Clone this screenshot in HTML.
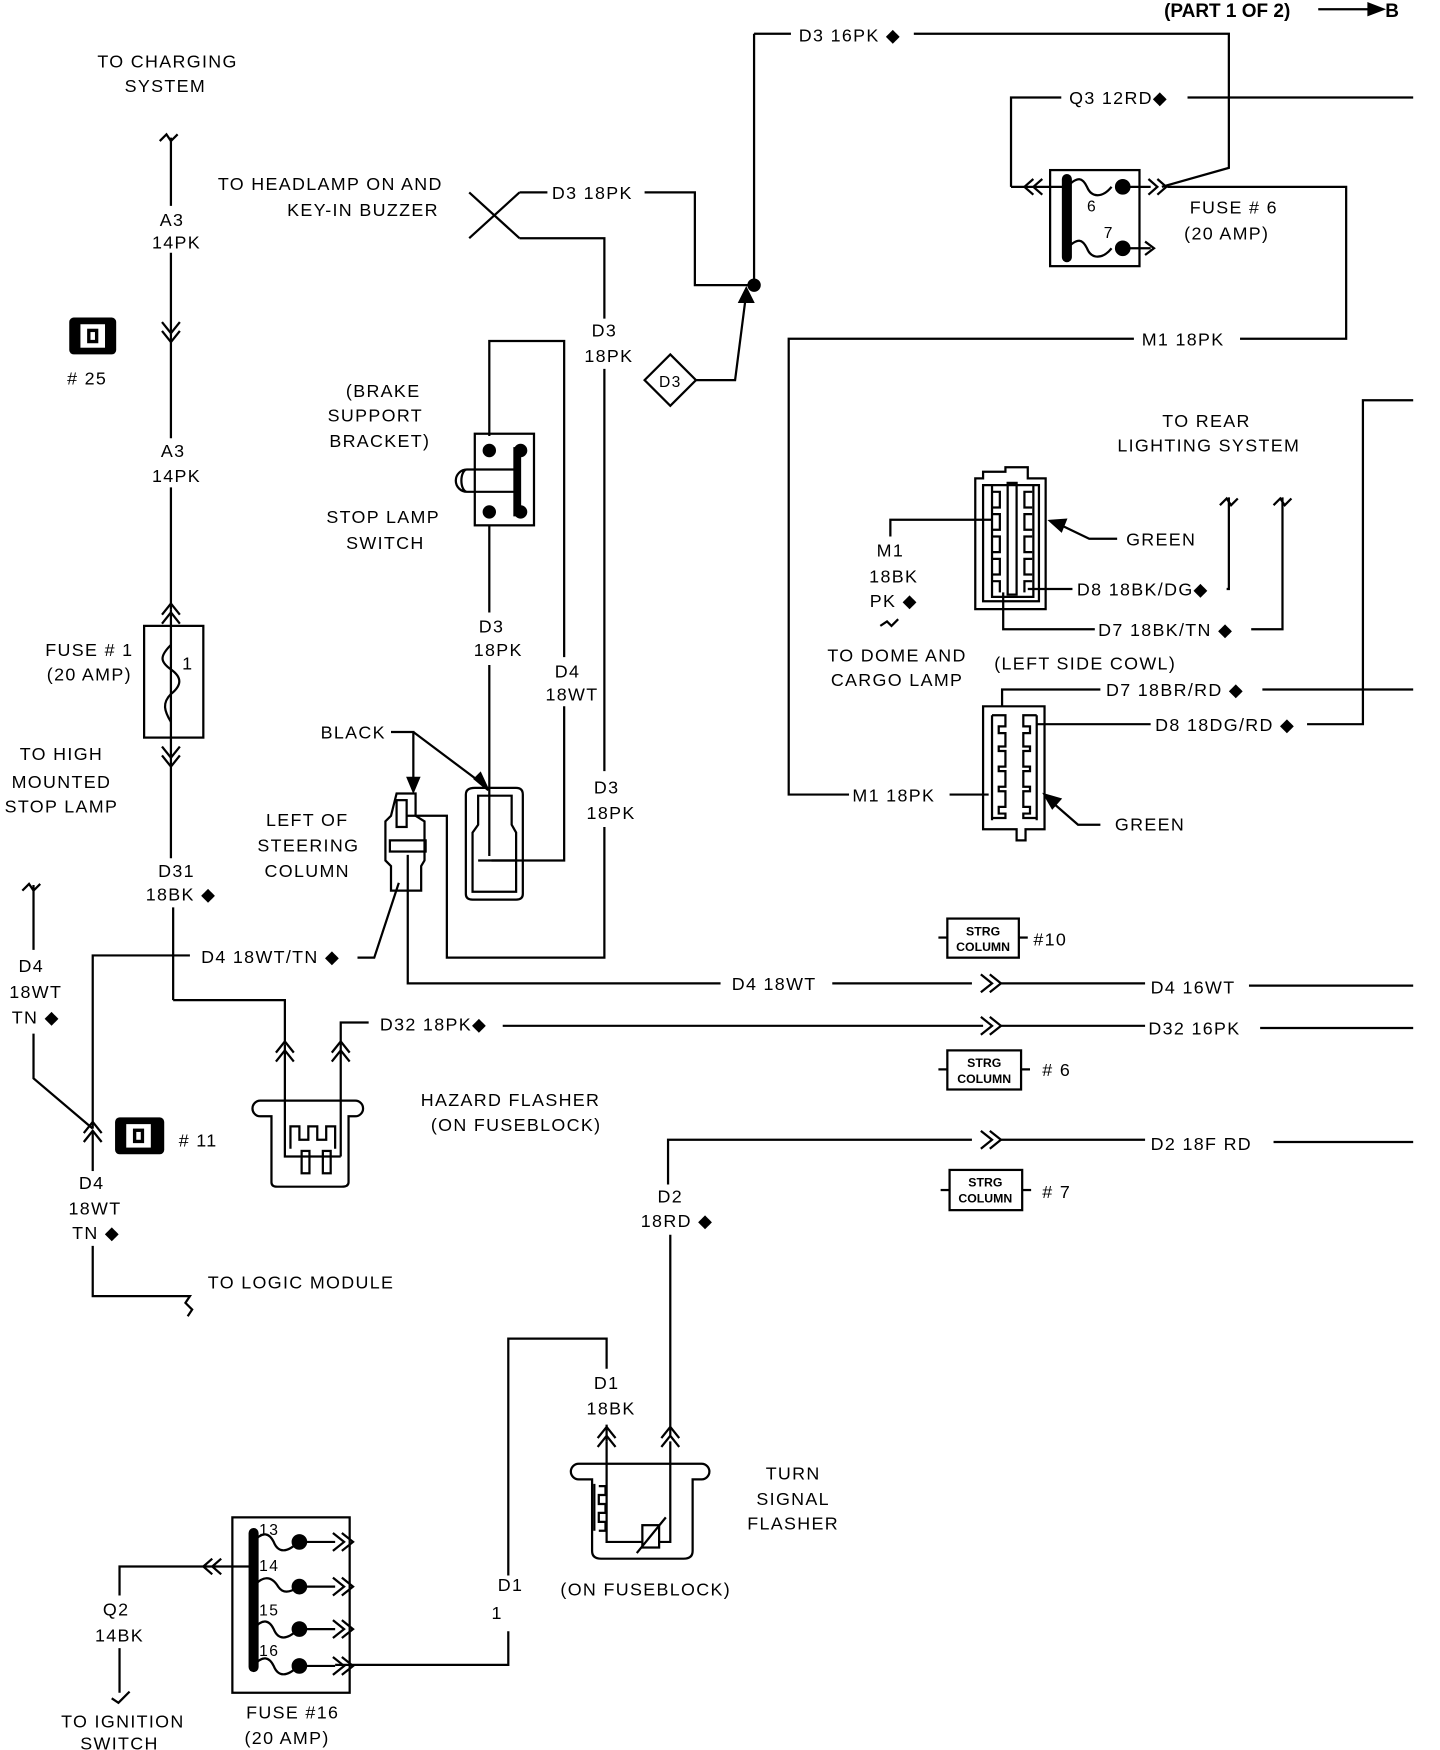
<!DOCTYPE html>
<html><head><meta charset="utf-8"><style>
html,body{margin:0;padding:0;background:#fff;}
svg{display:block;}
text{font-family:"Liberation Sans",sans-serif;font-size:16px;fill:#000;letter-spacing:1.2px;}
.m{text-anchor:middle;}
.s{font-size:11px;font-weight:bold;letter-spacing:0;}
</style></head><body>
<svg width="1440" height="1750" viewBox="0 0 1289 1566" xmlns="http://www.w3.org/2000/svg">
<defs>
<path id="dr" d="M-10,-8 L0,0 L-10,8 M-2,-8 L8,0 L-2,8" fill="none" stroke="#000" stroke-width="2"/>
</defs>
<g fill="none" stroke="#000" stroke-width="2">
<line x1="1180" y1="8" x2="1228" y2="8"/><path d="M1225,3 L1238,8 L1225,13 Z" fill="#000"/>
<path d="M143,126 l6,-6 l4,6 l6,-6"/>
<line x1="153" y1="123" x2="153" y2="184"/>
<line x1="153" y1="226" x2="153" y2="392"/>
<line x1="153" y1="436" x2="153" y2="545"/>
<line x1="153" y1="545" x2="153" y2="660"/>
<line x1="153" y1="660" x2="153" y2="768"/>
<line x1="155" y1="812" x2="155" y2="895"/>
<path d="M155,895 H255 V935"/>
<rect x="129" y="560" width="53" height="100"/>
<path d="M153,577 c-10,10 -10,15 0,22 c10,7 10,14 0,22 c-8,8 -6,15 0,25"/>
<path d="M20,797 l6,-6 l4,6 l6,-6"/>
<line x1="30" y1="792" x2="30" y2="850"/>
<path d="M30,925 V965 L83,1010"/>
<path d="M83,1010 V855 H170"/>
<path d="M320,857 H335 L357,790"/>
<path d="M83,1012 V1048"/>
<path d="M83,1115 V1160 H170 l-4,6 l6,6 l-4,6"/>
<path d="M233,985 H318 a7,7 0 0 1 0,14 H312 L312,1058 Q312,1062 306,1062 H248 Q243,1062 243,1058 V999 H233 a7,7 0 0 1 0,-14 Z"/>
<path d="M255,935 V1035 H305"/>
<path d="M305,945 V1035"/>
<path d="M260,1028 V1008 h8 v12 h8 v-12 h8 v12 h8 v-12 h8 v20"/>
<rect x="270" y="1030" width="7" height="20"/><rect x="289" y="1030" width="7" height="20"/>
<path d="M305,945 V915 H330"/>
<line x1="450" y1="918" x2="880" y2="918"/><line x1="895" y1="918" x2="1025" y2="918"/><line x1="1128" y1="920" x2="1265" y2="920"/>
<path d="M420,172 L465,213 M420,213 L465,172"/>
<path d="M465,172 H490 M577,172 H622 V255 H675"/>
<path d="M465,213 H541 V285"/>
<line x1="541" y1="330" x2="541" y2="690"/>
<path d="M541,740 V857 H400 V730 H380"/>
<path d="M675,30 V255"/>
<circle cx="675" cy="255" r="5" fill="#000"/>
<path d="M675,30 H708 M818,30 H1100 V150 L1040,167"/>
<path d="M600,317 L623,340 L600,363 L577,340 Z"/>
<path d="M623,340 H658 L668,262"/><path d="M662,270 L668,258 L674,270 Z" fill="#000"/>
<rect x="940" y="152" width="80" height="86"/>
<line x1="955" y1="160" x2="955" y2="230" stroke-width="9" stroke-linecap="round"/>
<path d="M955,167 c10,-10 14,-8 18,0 c4,10 14,10 22,0"/><circle cx="1005" cy="167" r="6" fill="#000"/>
<path d="M955,222 c10,-10 14,-8 18,0 c4,10 14,10 22,0"/><circle cx="1005" cy="222" r="6" fill="#000"/>
<path d="M1010,222 H1030 M1025,216 L1033,222 L1025,228"/>
<path d="M925,160 l-8,7 l8,7 M933,160 l-8,7 l8,7 M917,167 H955"/>
<path d="M905,167 H917 M905,167 V87 H950 M1063,87 H1265"/>
<path d="M1010,167 H1030"/>
<path d="M1028,160 l8,7 l-8,7 M1036,160 l8,7 l-8,7"/>
<path d="M1045,167 H1205 V303 H1110 M1015,303 H706 V711 H760 M850,711 H885"/>
<path d="M873,428 H880 V422 H900 V418 H920 V428 H936 V545 H873 Z"/>
<path d="M880,434 H930 V538 H880 Z"/>
<path d="M888,434 V534 H925 V434"/>
<rect x="902" y="432" width="8" height="100"/>
<path d="M888,440 h7 v14 h-7 M888,460 h7 v14 h-7 M888,480 h7 v14 h-7 M888,500 h7 v14 h-7 M888,520 h7 v10"/>
<path d="M924,440 h-7 v14 h7 M924,460 h-7 v14 h7 M924,480 h-7 v14 h7 M924,500 h-7 v14 h7 M924,520 h-7 v10"/>
<path d="M888,465 H797 V480 M788,560 l6,-4 l4,4 l6,-6"/>
<path d="M1000,482 H975 L948,469"/><path d="M940,466 L954,465 L950,475 Z" fill="#000"/>
<path d="M920,527 H960 M1098,527 H1100 V445 M1092,452 l6,-6 l4,6 l6,-6"/>
<path d="M898,530 V563 H980 M1120,563 H1148 V445 M1140,452 l6,-6 l4,6 l6,-6"/>
<path d="M880,632 H935 V742 H918 V752 H910 V742 H880 Z"/>
<path d="M888,640 V734 M928,640 V734"/>
<path d="M888,640 h12 v10 h-6 v6 h6 v12 h-6 v4 h6 v14 h-6 v4 h6 v14 h-6 v4 h6 v14 h-6 v6 h6 v4 h-12"/>
<path d="M928,640 h-12 v10 h6 v6 h-6 v12 h6 v4 h-6 v14 h6 v4 h-6 v14 h6 v4 h-6 v14 h6 v6 h-6 v4 h12"/>
<path d="M897,632 V617 H985 M1130,617 H1265"/>
<path d="M928,648 H1030 M1170,648 H1220 V358 H1265"/>
<path d="M985,738 H965 L942,718"/><path d="M935,711 L949,715 L942,723 Z" fill="#000"/>
<rect x="425" y="388" width="53" height="82"/>
<circle cx="438" cy="403" r="5" fill="#000"/><circle cx="438" cy="458" r="5" fill="#000"/>
<path d="M463,400 V462" stroke-width="7"/><circle cx="466" cy="403" r="5" fill="#000"/><circle cx="466" cy="458" r="5" fill="#000"/>
<path d="M463,420 H418 a10,10 0 0 0 0,20 H463 M418,420 a5,10 0 0 0 0,20"/>
<path d="M438,390 V305 H505 V588 M505,632 V770 H440"/>
<path d="M438,470 V548 M438,595 V766"/>
<path d="M425,705 H462 Q468,705 468,711 V800 Q468,805 462,805 H423 Q417,805 417,800 V711 Q417,705 425,705 Z"/>
<path d="M428,712 H458 V738 L462,745 V798 H423 V745 L428,738 Z"/>
<line x1="428" y1="770" x2="462" y2="770"/>
<path d="M355,710 H372 V730 L380,735 V770 L377,775 V797 H350 V775 L345,770 V735 L350,730 Z"/>
<rect x="355" y="716" width="9" height="24"/>
<rect x="349" y="752" width="32" height="10"/>
<path d="M364,730 H380"/>
<path d="M350,655 H370 V700 M370,655 L430,700"/>
<path d="M365,696 L370,708 L375,696 Z M425,697 L437,707 L430,692 Z" fill="#000"/>
<path d="M365,765 V880 H645 M745,880 H870 M895,880 H1025 M1118,882 H1265"/>
<rect x="848" y="822" width="64" height="35"/><line x1="840" y1="839" x2="848" y2="839"/><line x1="912" y1="839" x2="920" y2="839"/>
<rect x="848" y="940" width="66" height="35"/><line x1="840" y1="957" x2="848" y2="957"/><line x1="914" y1="957" x2="922" y2="957"/>
<rect x="850" y="1047" width="65" height="36"/><line x1="842" y1="1065" x2="850" y2="1065"/><line x1="915" y1="1065" x2="923" y2="1065"/>
<path d="M598,1060 V1020 H870 M895,1020 H1025 M1140,1022 H1265"/>
<path d="M600,1105 V1285"/>
<path d="M455,1410 V1198 H543 V1225 M543,1275 V1290"/>
<path d="M455,1460 V1490 H300"/>
<path d="M518,1310 H628 a7,7 0 0 1 0,14 H620 V1388 Q620,1395 612,1395 H538 Q530,1395 530,1388 V1324 H518 a7,7 0 0 1 0,-14 Z"/>
<path d="M543,1290 V1380 H575 M600,1290 V1380 H590"/>
<path d="M536,1330 h6 v8 h-6 v8 h6 v8 h-6 v8 h6 v8 h-6 M532,1328 V1370"/>
<rect x="575" y="1365" width="15" height="20"/><line x1="570" y1="1390" x2="596" y2="1358"/>
<rect x="208" y="1358" width="105" height="157"/>
<line x1="227" y1="1372" x2="227" y2="1492" stroke-width="9" stroke-linecap="round"/>
<path d="M227,1380 c8,-10 14,-8 18,0 c4,10 12,10 22,0"/><circle cx="268" cy="1380" r="6" fill="#000"/>
<path d="M227,1420 c8,-10 16,-10 22,0 c4,6 10,6 18,0"/><circle cx="268" cy="1420" r="6" fill="#000"/>
<path d="M227,1458 c8,-10 14,-8 18,0 c4,10 12,10 22,0"/><circle cx="268" cy="1458" r="6" fill="#000"/>
<path d="M227,1491 c8,-10 14,-8 18,0 c4,10 12,10 22,0"/><circle cx="268" cy="1491" r="6" fill="#000"/>
<path d="M268,1380 H300 M268,1420 H300 M268,1458 H300 M268,1491 H300"/>
<path d="M190,1395 l-8,7 l8,7 M198,1395 l-8,7 l8,7 M182,1402 H227"/>
<path d="M182,1402 H107 V1428 M107,1475 V1515 M100,1520 l6,4 l4,-4 l6,-6"/>
</g>
<use href="#dr" transform="translate(153,298) rotate(90)"/>
<use href="#dr" transform="translate(153,548) rotate(-90)"/>
<use href="#dr" transform="translate(153,678) rotate(90)"/>
<use href="#dr" transform="translate(83,1012) rotate(-90)"/>
<use href="#dr" transform="translate(255,940) rotate(-90)"/>
<use href="#dr" transform="translate(305,940) rotate(-90)"/>
<use href="#dr" transform="translate(888,880)"/>
<use href="#dr" transform="translate(888,918)"/>
<use href="#dr" transform="translate(888,1020)"/>
<use href="#dr" transform="translate(543,1285) rotate(-90)"/>
<use href="#dr" transform="translate(600,1285) rotate(-90)"/>
<use href="#dr" transform="translate(308,1380)"/>
<use href="#dr" transform="translate(308,1420)"/>
<use href="#dr" transform="translate(308,1458)"/>
<use href="#dr" transform="translate(308,1491)"/>
<rect x="62" y="284" width="42" height="33" rx="4" fill="#000"/><rect x="72" y="290" width="22" height="21" fill="#fff"/><rect x="78" y="294" width="10" height="13" fill="#000"/><rect x="81" y="297" width="4" height="7" fill="#fff"/>
<rect x="103" y="1000" width="44" height="33" rx="4" fill="#000"/><rect x="113" y="1006" width="22" height="21" fill="#fff"/><rect x="119" y="1010" width="10" height="13" fill="#000"/><rect x="122" y="1013" width="4" height="7" fill="#fff"/>
<g font-weight="bold"><text x="1042" y="15" style="font-size:17px;letter-spacing:0">(PART 1 OF 2)</text><text x="1240" y="15" style="font-size:17px">B</text></g>
<text class="m" x="150" y="60">TO CHARGING</text>
<text class="m" x="148" y="82">SYSTEM</text>
<text class="m" x="154" y="202">A3</text><text class="m" x="158" y="222">14PK</text>
<text class="m" x="78" y="344"># 25</text>
<text class="m" x="155" y="409">A3</text><text class="m" x="158" y="431">14PK</text>
<text class="m" x="80" y="587">FUSE # 1</text><text class="m" x="80" y="609">(20 AMP)</text>
<text x="163" y="599">1</text>
<text class="m" x="55" y="680">TO HIGH</text><text class="m" x="55" y="705">MOUNTED</text><text class="m" x="55" y="727">STOP LAMP</text>
<text class="m" x="158" y="785">D31</text><text class="m" x="162" y="806">18BK ◆</text>
<text class="m" x="28" y="870">D4</text><text class="m" x="32" y="893">18WT</text><text class="m" x="32" y="916">TN ◆</text>
<text x="180" y="862">D4 18WT/TN ◆</text>
<text x="160" y="1026"># 11</text>
<text class="m" x="82" y="1064">D4</text><text class="m" x="85" y="1087">18WT</text><text class="m" x="86" y="1109">TN ◆</text>
<text x="186" y="1153">TO LOGIC MODULE</text>
<text x="340" y="922">D32 18PK◆</text>
<text class="m" x="457" y="990">HAZARD FLASHER</text><text class="m" x="462" y="1012">(ON FUSEBLOCK)</text>
<text x="195" y="170">TO HEADLAMP ON AND</text><text x="257" y="193">KEY-IN BUZZER</text>
<text x="494" y="178">D3 18PK</text>
<text class="m" x="541" y="301">D3</text><text class="m" x="545" y="324">18PK</text>
<text class="m" x="600" y="346" style="font-size:14px">D3</text>
<text x="715" y="37">D3 16PK ◆</text>
<text x="957" y="93">Q3 12RD◆</text>
<text x="973" y="189" style="font-size:14px">6</text><text x="988" y="213" style="font-size:14px">7</text>
<text x="1065" y="191">FUSE # 6</text><text x="1060" y="214">(20 AMP)</text>
<text x="1022" y="309">M1 18PK</text>
<text class="m" x="1080" y="382">TO REAR</text><text class="m" x="1082" y="404">LIGHTING SYSTEM</text>
<text class="m" x="343" y="355">(BRAKE</text><text class="m" x="336" y="377">SUPPORT</text><text class="m" x="340" y="400">BRACKET)</text>
<text class="m" x="343" y="468">STOP LAMP</text><text class="m" x="345" y="491">SWITCH</text>
<text class="m" x="440" y="566">D3</text><text class="m" x="446" y="587">18PK</text>
<text class="m" x="508" y="606">D4</text><text class="m" x="512" y="627">18WT</text>
<text class="m" x="543" y="710">D3</text><text class="m" x="547" y="733">18PK</text>
<text x="287" y="661">BLACK</text>
<text class="m" x="275" y="739">LEFT OF</text><text class="m" x="276" y="762">STEERING</text><text class="m" x="275" y="785">COLUMN</text>
<text class="m" x="797" y="498">M1</text><text class="m" x="800" y="521">18BK</text><text class="m" x="800" y="543">PK ◆</text>
<text class="m" x="803" y="592">TO DOME AND</text><text class="m" x="803" y="614">CARGO LAMP</text>
<text x="1008" y="488">GREEN</text>
<text x="964" y="533">D8 18BK/DG◆</text>
<text x="983" y="569">D7 18BK/TN ◆</text>
<text x="890" y="599">(LEFT SIDE COWL)</text>
<text x="990" y="623">D7 18BR/RD ◆</text>
<text x="1034" y="654">D8 18DG/RD ◆</text>
<text x="763" y="717">M1 18PK</text>
<text x="998" y="743">GREEN</text>
<text class="m s" x="880" y="837">STRG</text><text class="m s" x="880" y="851">COLUMN</text><text x="925" y="846">#10</text>
<text class="m s" x="881" y="955">STRG</text><text class="m s" x="881" y="969">COLUMN</text><text x="933" y="963"># 6</text>
<text class="m s" x="882" y="1062">STRG</text><text class="m s" x="882" y="1076">COLUMN</text><text x="933" y="1072"># 7</text>
<text x="655" y="886">D4 18WT</text>
<text x="1030" y="889">D4 16WT</text>
<text x="1028" y="926">D32 16PK</text>
<text x="1030" y="1029">D2 18F RD</text>
<text class="m" x="600" y="1076">D2</text><text class="m" x="606" y="1098">18RD ◆</text>
<text class="m" x="543" y="1243">D1</text><text class="m" x="547" y="1266">18BK</text>
<text class="m" x="710" y="1324">TURN</text><text class="m" x="710" y="1347">SIGNAL</text><text class="m" x="710" y="1369">FLASHER</text>
<text class="m" x="578" y="1428">(ON FUSEBLOCK)</text>
<text class="m" x="457" y="1424">D1</text><text x="440" y="1449">1</text>
<text x="232" y="1374" style="font-size:14px">13</text><text x="232" y="1406" style="font-size:14px">14</text>
<text x="232" y="1446" style="font-size:14px">15</text><text x="232" y="1482" style="font-size:14px">16</text>
<text class="m" x="104" y="1446">Q2</text><text class="m" x="107" y="1469">14BK</text>
<text class="m" x="110" y="1546">TO IGNITION</text><text class="m" x="107" y="1566">SWITCH</text>
<text class="m" x="262" y="1538">FUSE #16</text><text class="m" x="257" y="1561">(20 AMP)</text>
</svg>
</body></html>
